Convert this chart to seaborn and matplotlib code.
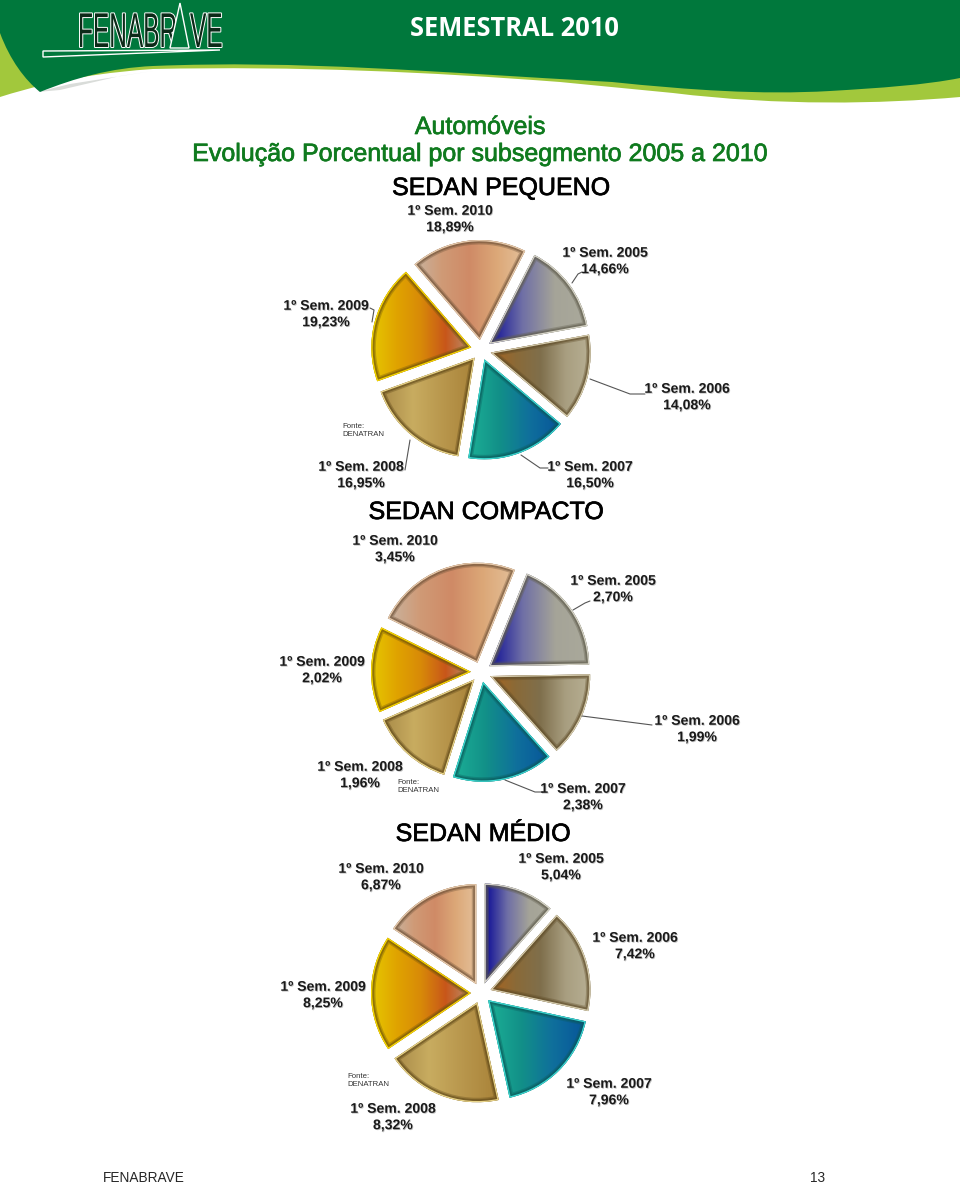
#!/usr/bin/env python3
# Automoveis - evolucao porcentual por subsegmento, tres pizzas destacadas

import numpy as np
from matplotlib import pyplot as plt
from matplotlib.path import Path
from matplotlib.patches import PathPatch, Polygon
from matplotlib.transforms import Affine2D
import matplotlib.patheffects as pe
import seaborn as sns

sns.set_style("white")
plt.rcParams['font.family'] = ['Liberation Sans', 'DejaVu Sans']

W, H = 960, 1184

# Data ------------------------------------------------------------------------
semesters = ['1º Sem. 2005', '1º Sem. 2006', '1º Sem. 2007',
             '1º Sem. 2008', '1º Sem. 2009', '1º Sem. 2010']
sedan_pequeno = [14.66, 14.08, 16.50, 16.95, 19.23, 18.89]
sedan_compacto = [2.70, 1.99, 2.38, 1.96, 2.02, 3.45]
sedan_medio = [5.04, 7.42, 7.96, 8.32, 8.25, 6.87]

# gradient left -> right for each semester, and the bevel colours
gradients = [['#0c0c96', '#6f6fa6', '#a5a498', '#aaa99b'],
             ['#a8641f', '#8a6a38', '#7f6f4c', '#a89e80', '#b8b094'],
             ['#1cb096', '#129088', '#0f6f9c', '#07559a'],
             ['#a88a48', '#c8ac60', '#b8964c', '#a88238'],
             ['#e6c800', '#e0a400', '#d88a08', '#c8561a', '#b89070'],
             ['#c8b4a0', '#d09a76', '#cf8a66', '#dca878', '#e4c09a']]
bevels = ['#5f5c4c', '#5f4c28', '#0a5a5a', '#5f4818', '#6f5408', '#6f5238']
rims = ['#dedccf', '#ddd4b6', '#40e0d8', '#f0dc90', '#ffe000', '#eed2b4']


def fmt(value):
    return f'{value:.2f}%'.replace('.', ',')


class Squeeze(pe.AbstractPathEffect):
    # stretch a text on its own origin, for the tall logo letters
    def __init__(self, sx, sy, stroke=None, lw=0):
        super().__init__()
        self.sx, self.sy, self.stroke, self.lw = sx, sy, stroke, lw

    def draw_path(self, renderer, gc, tpath, affine, rgbFace=None):
        tr = Affine2D().scale(self.sx, self.sy) + affine
        if self.stroke:
            gc0 = renderer.new_gc()
            gc0.copy_properties(gc)
            gc0.set_linewidth(self.lw)
            gc0.set_foreground(self.stroke)
            renderer.draw_path(gc0, tpath, tr, rgbFace)
            gc0.restore()
        else:
            renderer.draw_path(gc, tpath, tr, rgbFace)


# Background page -------------------------------------------------------------
fig = plt.figure(figsize=(W / 100, H / 100), dpi=100, facecolor='white')
page = fig.add_axes([0, 0, 1, 1], zorder=5)
page.set_xlim(0, W)
page.set_ylim(H, 0)
page.axis('off')

M, C, L = Path.MOVETO, Path.CURVE4, Path.LINETO
lime = [(0, 30), (0, 97), (60, 78), (110, 72), (153, 69), (300, 66), (428, 72),
        (560, 82), (673, 93), (780, 106), (880, 104), (960, 97), (960, 30), (0, 30)]
lime_codes = [M, L, C, C, C, C, C, C, L, C, C, C, L, L]
page.add_patch(PathPatch(Path(lime, lime_codes), fc='#a2c83c', ec='none', zorder=1))
page.add_patch(Polygon([(37, 92), (70, 84), (153, 71), (120, 76), (60, 90)],
                       fc='#d9dcd9', ec='none', zorder=1))
green = [(0, 0), (0, 33), (10, 60), (25, 80), (40, 92), (75, 78), (110, 68), (153, 66),
         (300, 60), (430, 72), (612, 82), (690, 90), (760, 95), (830, 91),
         (880, 88), (925, 85), (960, 78), (960, 0), (0, 0)]
green_codes = [M, L, C, C, C, C, C, C, C, C, C, C, C, C, C, C, C, L, L]
page.add_patch(PathPatch(Path(green, green_codes), fc='#00783c', ec='none', zorder=2))

# logo
logo = [Squeeze(1, 2, 'white', 1.4), Squeeze(1, 2)]
page.text(78, 47, 'FENABR', ha='left', va='baseline', fontsize=17.6, color='#0c2a18',
          zorder=3, path_effects=logo)
page.text(190, 47, 'VE', ha='left', va='baseline', fontsize=17.6, color='#0c2a18',
          zorder=3, path_effects=logo)
page.add_patch(Polygon([(180, 3), (170, 48), (189, 48)], fc='#00783c', ec='white', lw=1, zorder=3))
page.add_patch(Polygon([(43, 51), (220, 50), (43, 57)], fc='#00783c', ec='white', lw=1, zorder=3))

page.text(514, 28, 'SEMESTRAL 2010', ha='center', va='center', color='white',
          fontsize=18.4, fontweight='bold', family='Open Sans', zorder=3)

green_text = [pe.withStroke(linewidth=0.5, foreground='#0f7a1e')]
page.text(480, 127, 'Automóveis', ha='center', va='center', color='#0f7a1e', fontsize=18,
          path_effects=green_text)
page.text(480, 154, 'Evolução Porcentual por subsegmento 2005 a 2010', ha='center',
          va='center', color='#0f7a1e', fontsize=18, path_effects=green_text)

stroke = [pe.withStroke(linewidth=0.5, foreground='black')]
page.text(501, 188, 'SEDAN PEQUENO', ha='center', va='center', fontsize=18, color='black', path_effects=stroke)
page.text(486, 512, 'SEDAN COMPACTO', ha='center', va='center', fontsize=18, color='black', path_effects=stroke)
page.text(483, 834, 'SEDAN MÉDIO', ha='center', va='center', fontsize=18, color='black', path_effects=stroke)

page.text(103, 1178.5, 'FENABRAVE', ha='left', va='center', fontsize=9.8)
page.text(825, 1178.5, '13', ha='right', va='center', fontsize=9.8)


# Pies ------------------------------------------------------------------------
def draw_pie(values, start, cx, cy, radius):
    box = 1.4 * radius
    ax = fig.add_axes([(cx - box) / W, 1 - (cy + box) / H, 2 * box / W, 2 * box / H])
    ax.patch.set_alpha(0)
    wedges, _ = ax.pie(values, startangle=start, counterclock=False,
                       explode=[0.1] * len(values), radius=1)
    for wedge, grad, bevel, rim in zip(wedges, gradients, bevels, rims):
        cmap = sns.blend_palette(grad, as_cmap=True)
        bb = wedge.get_path().get_extents(wedge.get_patch_transform())
        im = ax.imshow(np.linspace(0, 1, 128)[None, :], cmap=cmap, aspect='auto',
                       extent=[bb.x0, bb.x1, bb.y0, bb.y1], zorder=1)
        im.set_clip_path(wedge)
        wedge.set_facecolor('none')
        wedge.set_edgecolor('none')
        # inner bevel: strokes kept inside the slice by its own clip
        for color, lw, alpha, z in [(bevel, 6.5, 0.35, 2), (bevel, 4.5, 0.55, 3), (rim, 1.8, 0.95, 4)]:
            edge = PathPatch(wedge.get_path(), transform=wedge.get_transform(), fc='none',
                             ec=color, lw=lw, alpha=alpha, zorder=z, joinstyle='miter')
            ax.add_patch(edge)
            edge.set_clip_path(wedge)
    ax.set_aspect('auto')
    ax.set_xlim(-1.4, 1.4)
    ax.set_ylim(-1.4, 1.4)
    ax.axis('off')


def draw_labels(values, positions):
    for name, value, (x, y) in zip(semesters, values, positions):
        txt = page.text(x, y, f'{name}\n{fmt(value)}', ha='center', va='center',
                        fontsize=10.1, fontweight='bold', color='#1a1a1a',
                        linespacing=1.22, zorder=6)
        txt.set_path_effects([pe.withSimplePatchShadow(offset=(0.6, -0.6), alpha=0.25)])


def draw_leaders(lines):
    for line in lines:
        page.plot(*zip(*line), color='#555555', lw=0.8, zorder=5)


draw_pie(sedan_pequeno, 63, 481, 350, 100)
draw_labels(sedan_pequeno, [(605, 261), (687, 397), (590, 475),
                            (361, 475), (326, 314), (450, 219)])
draw_leaders([[(572, 283), (578, 274), (582, 272)],
              [(590, 379), (630, 394), (645, 394)],
              [(521, 455), (540, 468), (548, 468)],
              [(410, 440), (405, 470)],
              [(372, 322), (374, 310), (370, 308)]])

draw_pie(sedan_compacto, 68, 481, 672, 100)
draw_labels(sedan_compacto, [(613, 589), (697, 729), (583, 797),
                             (360, 775), (322, 670), (395, 549)])
draw_leaders([[(573, 610), (585, 603), (590, 601)],
              [(582, 716), (652, 725)],
              [(505, 780), (535, 792), (543, 792)]])

draw_pie(sedan_medio, 90, 481, 993, 100)
draw_labels(sedan_medio, [(561, 867), (635, 946), (609, 1092),
                          (393, 1117), (323, 995), (381, 877)])

for x, y in [(342, 430), (397, 787), (347, 1081)]:
    page.text(x, y, 'Fonte:\nDENATRAN', ha='left', va='center', fontsize=5.6,
              color='#333333', linespacing=1.2, zorder=6)

plt.savefig('out.png', dpi=100)
